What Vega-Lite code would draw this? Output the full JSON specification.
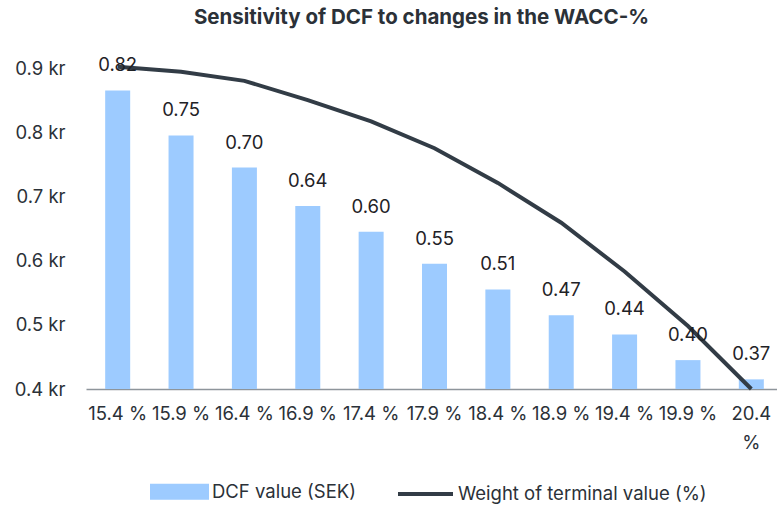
{
  "$schema": "https://vega.github.io/schema/vega-lite/v6.json",
  "autosize": {"type": "none"},
  "width": 691,
  "height": 321,
  "padding": {"left": 86, "top": 68, "right": 0, "bottom": 116},
  "background": "white",
  "config": {"view": {"stroke": null}, "font": "Inter"},
  "title": {
    "text": "Sensitivity of DCF to changes in the WACC-%",
    "font": "Inter",
    "fontSize": 20.5,
    "fontWeight": "bold",
    "color": "#2b3138",
    "anchor": "middle",
    "frame": "group",
    "offset": 28,
    "dx": -10
  },
  "data": {
    "values": [
      {"wacc": "15.4 %", "dcf": 0.82, "weight": 0.902},
      {"wacc": "15.9 %", "dcf": 0.75, "weight": 0.894},
      {"wacc": "16.4 %", "dcf": 0.70, "weight": 0.880},
      {"wacc": "16.9 %", "dcf": 0.64, "weight": 0.850},
      {"wacc": "17.4 %", "dcf": 0.60, "weight": 0.817},
      {"wacc": "17.9 %", "dcf": 0.55, "weight": 0.775},
      {"wacc": "18.4 %", "dcf": 0.51, "weight": 0.721},
      {"wacc": "18.9 %", "dcf": 0.47, "weight": 0.659},
      {"wacc": "19.4 %", "dcf": 0.44, "weight": 0.583},
      {"wacc": "19.9 %", "dcf": 0.40, "weight": 0.498},
      {"wacc": "20.4 %", "dcf": 0.37, "weight": 0.400}
    ]
  },
  "encoding": {
    "x": {
      "field": "wacc",
      "type": "nominal",
      "sort": null,
      "scale": {"range": [0, 697], "paddingInner": 0.6, "paddingOuter": 0.3},
      "axis": {
        "title": null,
        "labelAngle": 0,
        "labelFont": "Inter",
        "labelFontSize": 18.5,
        "labelColor": "#2b3138",
        "labelPadding": 15,
        "labelLineHeight": 29,
        "labelExpr": "datum.value == '20.4 %' ? ['20.4', '%'] : datum.label",
        "labelOverlap": false,
        "labelLimit": 200,
        "ticks": false,
        "domainColor": "#8e959b",
        "domainWidth": 1.5,
        "grid": false
      }
    }
  },
  "layer": [
    {
      "mark": {"type": "bar", "width": 25},
      "encoding": {
        "y": {
          "field": "dcf",
          "type": "quantitative",
          "scale": {"domain": [0.355, 0.855], "zero": false, "nice": false},
          "axis": null
        },
        "y2": {"datum": 0.355},
        "color": {
          "datum": "DCF value (SEK)",
          "type": "nominal",
          "scale": {
            "domain": ["DCF value (SEK)", "Weight of terminal value (%)"],
            "range": ["#9dcbff", "#323c46"]
          },
          "legend": {
            "orient": "none",
            "legendX": 64,
            "legendY": 394,
            "direction": "horizontal",
            "title": null,
            "symbolSize": 3025,
            "labelFont": "Inter",
            "labelFontSize": 18.5,
            "labelColor": "#2b3138",
            "labelOffset": 3,
            "columnPadding": 33,
            "labelLimit": 400,
            "encode": {
              "symbols": {
                "update": {
                  "shape": {"signal": "datum.value === 'DCF value (SEK)' ? 'M-1,-0.22H1V0.22H-1Z' : 'stroke'"},
                  "fill": {"signal": "datum.value === 'DCF value (SEK)' ? '#9dcbff' : 'transparent'"},
                  "stroke": {"signal": "datum.value === 'DCF value (SEK)' ? 'transparent' : '#323c46'"},
                  "strokeWidth": {"value": 4},
                  "size": {"value": 3025},
                  "opacity": {"value": 1}
                }
              }
            }
          }
        }
      }
    },
    {
      "mark": {"type": "line", "strokeWidth": 4},
      "encoding": {
        "y": {
          "field": "weight",
          "type": "quantitative",
          "scale": {"domain": [0.4, 0.9], "zero": false, "nice": false},
          "axis": {
            "title": null,
            "values": [0.4, 0.5, 0.6, 0.7, 0.8, 0.9],
            "labelExpr": "format(datum.value, '.1f') + ' kr'",
            "labelFont": "Inter",
            "labelFontSize": 18.5,
            "labelColor": "#2b3138",
            "labelPadding": 21,
            "domain": false,
            "ticks": false,
            "grid": false
          }
        },
        "color": {"datum": "Weight of terminal value (%)", "type": "nominal"}
      }
    },
    {
      "mark": {"type": "text", "baseline": "middle", "dy": -25, "font": "Inter", "fontSize": 18.5, "color": "#1f2226"},
      "encoding": {
        "y": {
          "field": "dcf",
          "type": "quantitative",
          "scale": {"domain": [0.355, 0.855], "zero": false, "nice": false},
          "axis": null
        },
        "text": {"field": "dcf", "type": "quantitative", "format": ".2f"}
      }
    }
  ],
  "resolve": {"scale": {"y": "independent"}}
}
